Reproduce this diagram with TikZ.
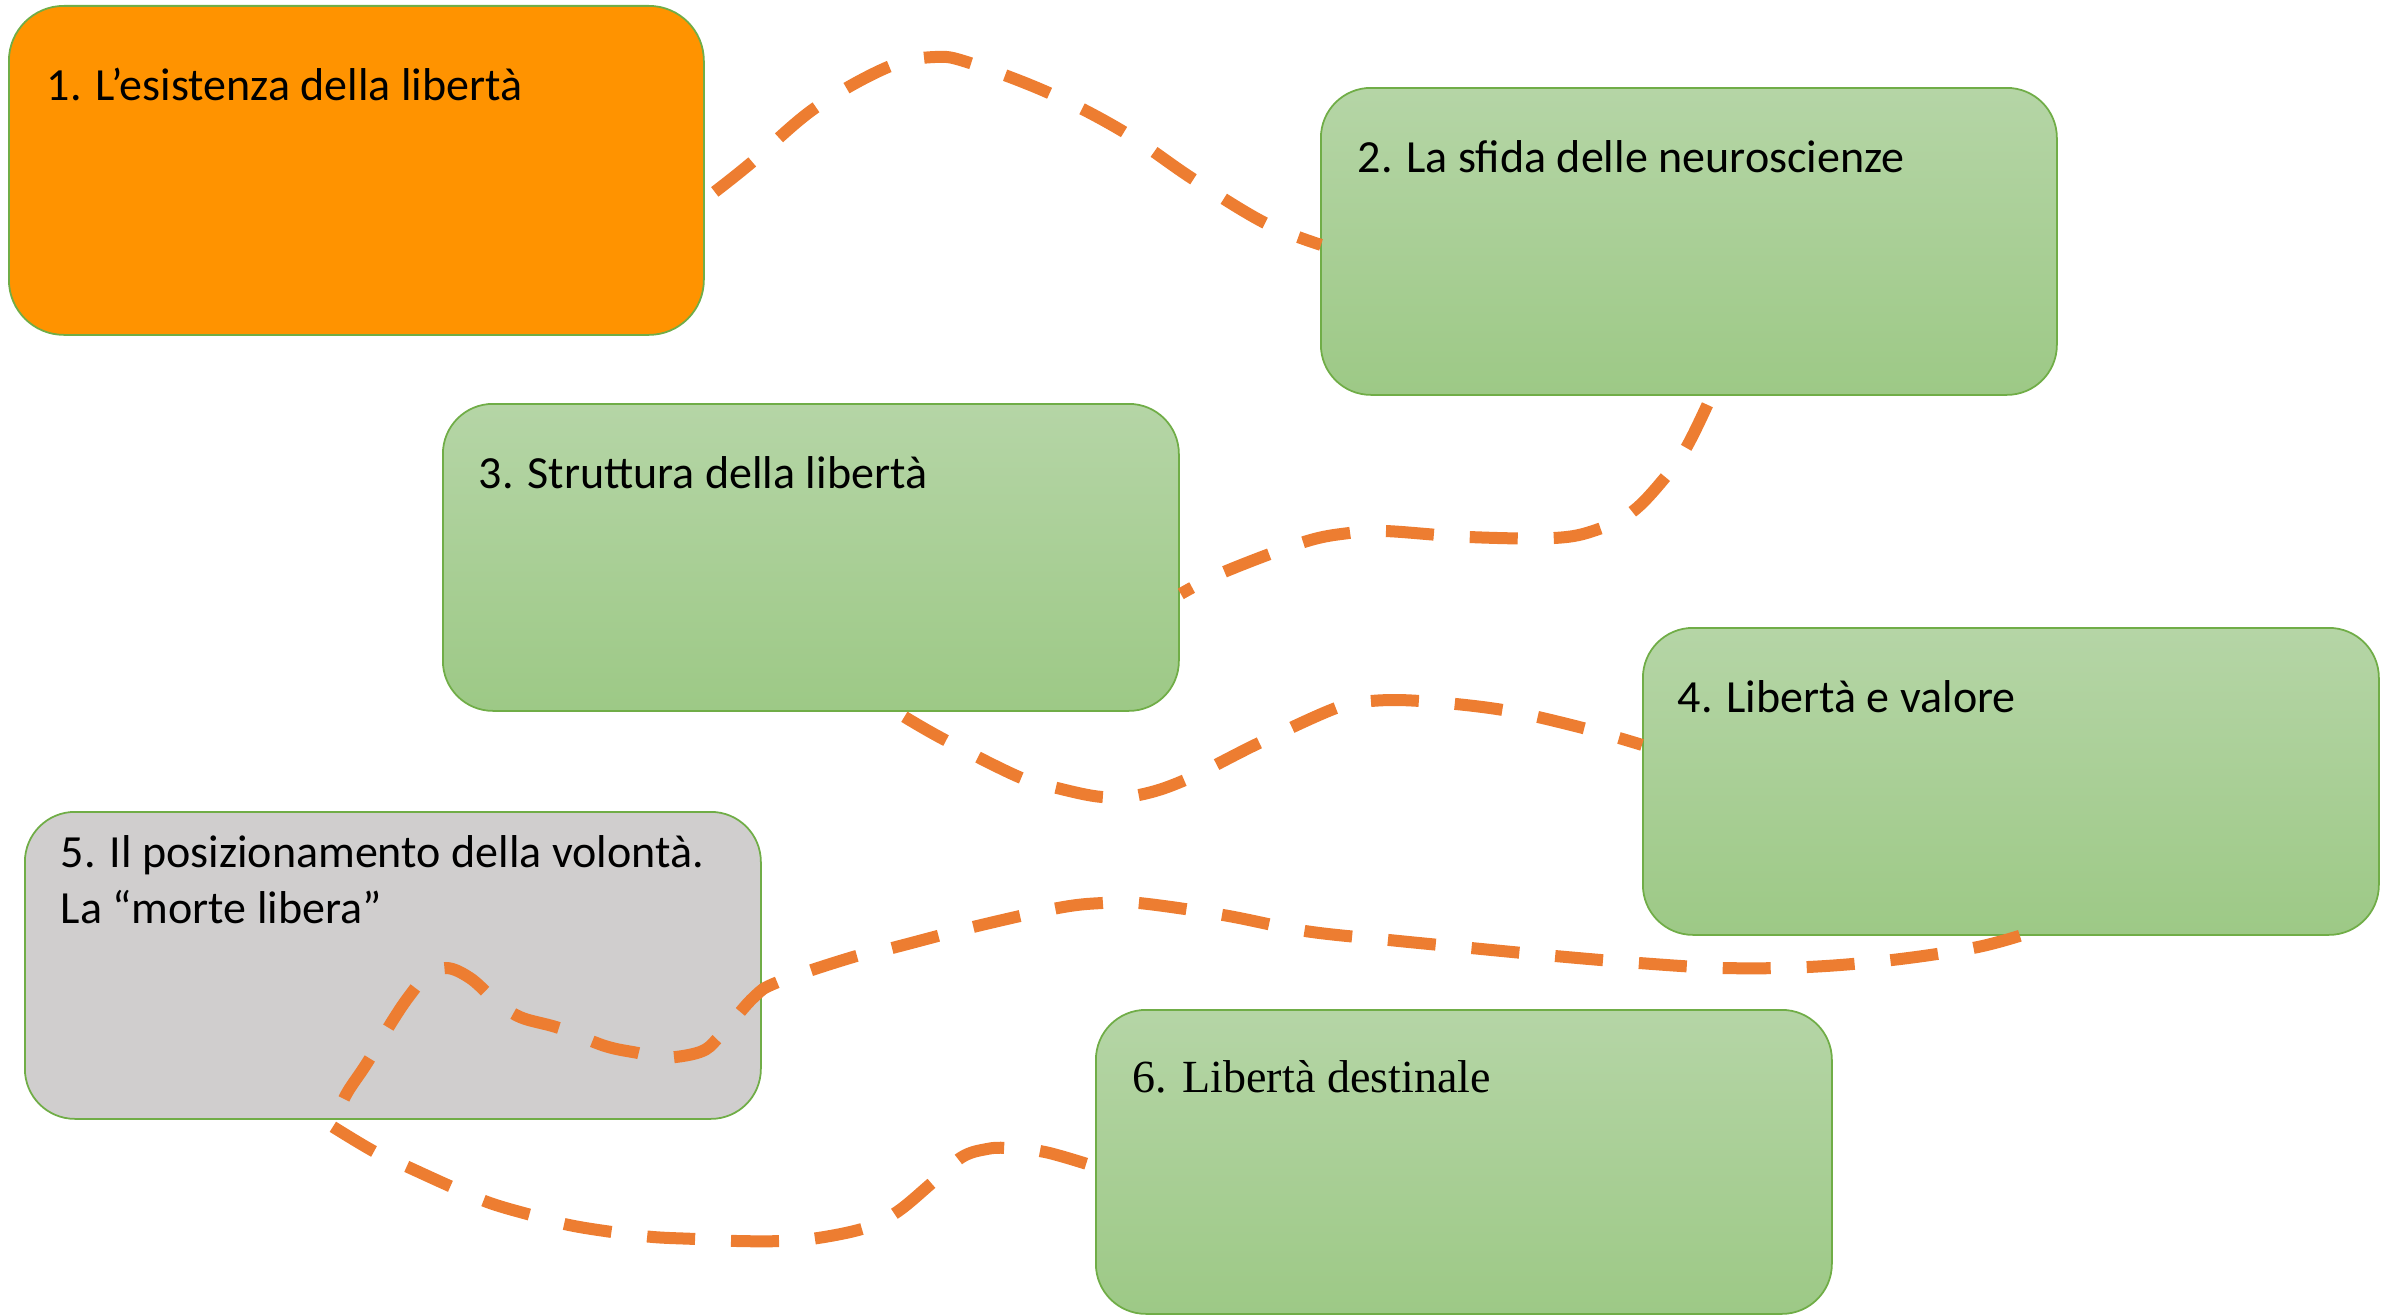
\documentclass[tikz,border=0pt]{standalone}
\usepackage{fontspec}
\setmainfont{Carlito}
\newfontfamily\serifsix{Liberation Serif}
\usetikzlibrary{calc}
\definecolor{connorange}{RGB}{237,125,49}
\definecolor{boxorange}{RGB}{255,147,0}
\definecolor{boxgray}{RGB}{208,206,206}
\definecolor{boxedge}{RGB}{112,173,71}
\definecolor{greentop}{RGB}{181,213,166}
\definecolor{greenbot}{RGB}{157,201,134}
\begin{document}
\begin{tikzpicture}[x=0.1mm,y=-0.1mm,
  boxbase/.style={draw=boxedge,line width=0.5pt,rounded corners=5mm,minimum width=73.6mm,minimum height=30.7mm,inner sep=0,anchor=north west},
  greenbox/.style={boxbase,top color=greentop,bottom color=greenbot},
  orangebox/.style={boxbase,fill=boxorange,minimum width=69.5mm,minimum height=32.9mm,rounded corners=5.5mm},
  graybox/.style={boxbase,fill=boxgray},
  txt/.style={inner sep=0,anchor=base west,font=\fontsize{13.1pt}{15.9pt}\selectfont,align=left},
  conn/.style={draw=connorange,line width=1.2mm,dash pattern=on 4.8mm off 3.6mm}]
\useasboundingbox (0,0) rectangle (2399,1315);
% boxes
\node[orangebox] (b1) at (8,5) {};
\node[greenbox] (b2) at (1320,87) {};
\node[greenbox] (b3) at (442,403) {};
\node[greenbox] (b4) at (1642,627) {};
\node[graybox] (b5) at (24,811) {};
\node[greenbox,minimum height=30.4mm] (b6) at (1095,1009) {};
% texts
\node[txt] (t1) at ($(b1.north west)+(38,95)$) {1. L’esistenza della libertà};
\node[txt] (t2) at ($(b2.north west)+(37,85)$) {2. La sfida delle neuroscienze};
\node[txt] (t3) at ($(b3.north west)+(36,85)$) {3. Struttura della libertà};
\node[txt] (t4) at ($(b4.north west)+(35,85)$) {4. Libertà e valore};
\node[txt] (t5) at ($(b5.north west)+(36,112)$) {5. Il posizionamento della volontà.\\La “morte libera”};
\node[txt,font=\serifsix\fontsize{13.1pt}{15.9pt}\selectfont] (t6) at ($(b6.north west)+(37,83)$) {6. Libertà destinale};
% connector end points
\coordinate (aS) at ($(b1.east)+(10,21.5)$);
\coordinate (aE) at ($(b2.west)+(1,3.5)$);
\coordinate (bS) at ($(b2.south)+(18.5,9)$);
\coordinate (bE) at ($(b3.east)+(1,36.5)$);
\coordinate (cS) at ($(b3.south)+(93.5,5)$);
\coordinate (cE) at ($(b4.west)+(0,-36.5)$);
\coordinate (dS) at ($(b4.south)+(9,0)$);
\coordinate (dE) at ($(b5.south)+(-58,-1)$);
\coordinate (eS) at ($(b5.south)+(-60,7)$);
\coordinate (eE) at ($(b6.west)+(-2,4)$);
% connectors
\draw[conn] plot[smooth,tension=0.6] coordinates {(aS) (751,163) (815,108) (888,67) (935,57) (970,63) (1049,93) (1124,132) (1193,179) (1265,223) (aE)};
\draw[conn] plot[smooth,tension=0.6] coordinates {(bS) (1686,448) (1663,480) (1632,512) (1596,530) (1554,538) (1469,537) (1385,531) (1349,533) (1304,542) (1224,572) (bE)};
\draw[conn] plot[smooth,tension=0.6] coordinates {(cS) (945,740) (1019,777) (1057,788) (1102,797) (1139,795) (1185,780) (1259,743) (1336,708) (1371,701) (1420,701) (1503,710) (1583,728) (cE)};
\draw[conn] plot[smooth,tension=0.6] coordinates {(dS) (1973,948) (1892,960) (1808,967) (1723,968) (1639,963) (1555,956) (1471,948) (1389,940) (1305,931) (1223,915) (1139,903) (1102,903) (1058,908) (973,927) (892,948) (853,957) (778,982) (753,998) (719,1037) (700,1052) (662,1058) (638,1053) (605,1046) (559,1028) (520,1017) (495,1000) (470,978) (446,968) (425,978) (410,995) (393,1020) (367,1063) (347,1093) (dE)};
\draw[conn] plot[smooth,tension=0.6] coordinates {(eS) (375,1152) (408,1167) (452,1187) (490,1203) (531,1215) (569,1225) (612,1232) (653,1237) (696,1239) (737,1241) (782,1241) (818,1238) (865,1228) (897,1212) (933,1182) (962,1157) (987,1149) (1007,1148) (1045,1152) (eE)};
\end{tikzpicture}
\end{document}
